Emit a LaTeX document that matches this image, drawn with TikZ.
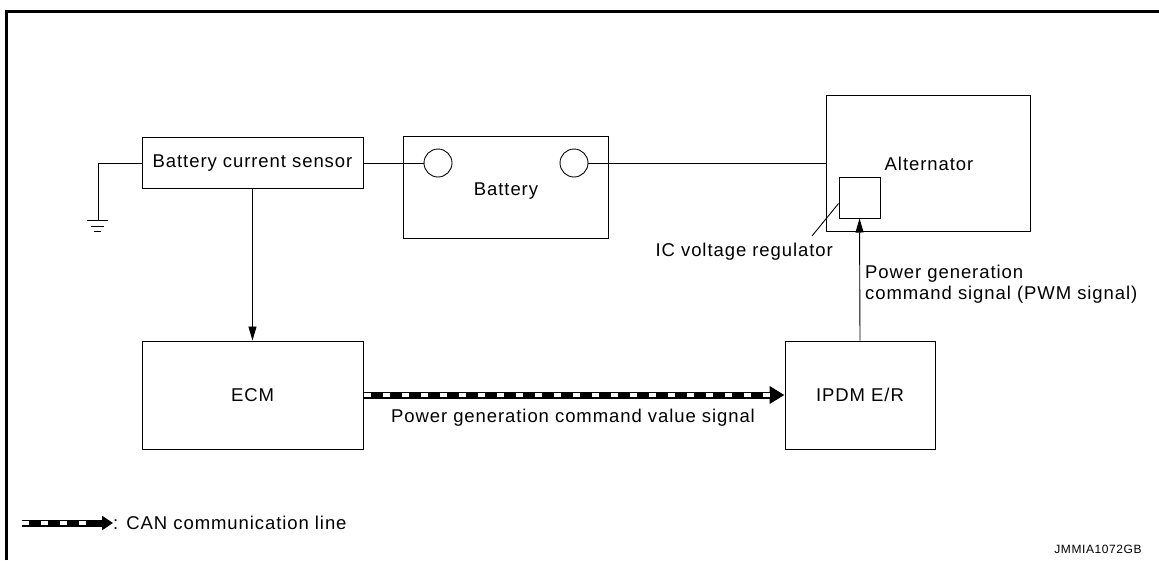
\documentclass[tikz,border=0pt]{standalone}
\usepackage{fontspec}
\setmainfont{Liberation Sans}[LetterSpace=5]
\usetikzlibrary{arrows.meta}
\newcommand\diagfont{\fontsize{18.5}{21}\selectfont}
\newcommand\tagfont{\fontsize{12}{14}\selectfont}
\tikzset{
  blk/.style={draw,line width=1pt,inner sep=0pt,font=\diagfont},
  term/.style={draw,line width=0.9pt,circle,minimum size=28pt,inner sep=0pt},
  wire/.style={line width=0.9pt},
  sig/.style={line width=0.9pt,-{Triangle[length=14pt,width=8pt]}},
  can/.style={line width=7pt,-{Triangle[length=15pt,width=17pt]},
    postaction={draw,-,white,line width=3.5pt,dash pattern=on 7pt off 12pt,shorten >=15pt}},
  txt/.style={inner sep=0pt,font=\diagfont}
}
\begin{document}
\begin{tikzpicture}[x=1pt,y=-1pt]
  \useasboundingbox (0,0) rectangle (1159,560);
  % frame
  \draw[line width=3pt] (6,560) -- (6,11) -- (1159,11);

  % blocks
  \node[blk,minimum width=221pt,minimum height=51pt](sensor) at (252.5,163){Battery current sensor};
  \node[blk,minimum width=205pt,minimum height=102pt](batt) at (505.5,187){};
  \node[txt](battlbl) at (506,191){Battery};
  \node[term](plus) at (438,163){};
  \node[term](minus) at (574,163){};
  \node[blk,minimum width=204pt,minimum height=136pt](alt) at (928,163){};
  \node[txt](altlbl) at (929,164){Alternator};
  \node[blk,minimum width=41pt,minimum height=41pt](icreg) at (859.5,197.5){};
  \node[blk,minimum width=221pt,minimum height=108pt](ecm) at (252.5,395){ECM};
  \node[blk,minimum width=150pt,minimum height=108pt](ipdm) at (860,395){IPDM E/R};

  % wiring
  \coordinate (gnd) at (98,220);
  \draw[wire] (sensor.west) -| (gnd);
  \draw[wire] (87,220) -- (108,220) (91,226) -- (104,226) (94,231.5) -- (101,231.5);
  \draw[wire] (sensor.east) -- (plus.west);
  \draw[wire] (minus.east) -- (alt.west);
  \draw[sig] (sensor.south) -- (ecm.north);
  \draw[sig] (ipdm.north) -- (icreg.south);
  \coordinate (leadend) at (812,236);
  \draw[wire] ([yshift=-6pt]icreg.west) -- (leadend);
  \node[txt,anchor=east](iclbl) at (833,252){IC voltage regulator};
  \node[txt,anchor=north west,align=left](pwmlbl) at (865,265){Power generation\\command signal (PWM signal)};

  % CAN line
  \draw[can] (ecm.east) -- (ipdm.west);
  \node[txt](canlbl) at (573,418){Power generation command value signal};

  % legend
  \coordinate (lgstart) at (22,523);
  \coordinate (lgend) at (113,523);
  \draw[can,-{Triangle[length=11pt,width=14pt]},postaction={shorten >=11pt}] (lgstart) -- (lgend);
  \node[txt,anchor=west](lglbl) at (lgend){: CAN communication line};
  \node[inner sep=0pt,font=\tagfont](ref) at (1098,549){JMMIA1072GB};
\end{tikzpicture}
\end{document}
